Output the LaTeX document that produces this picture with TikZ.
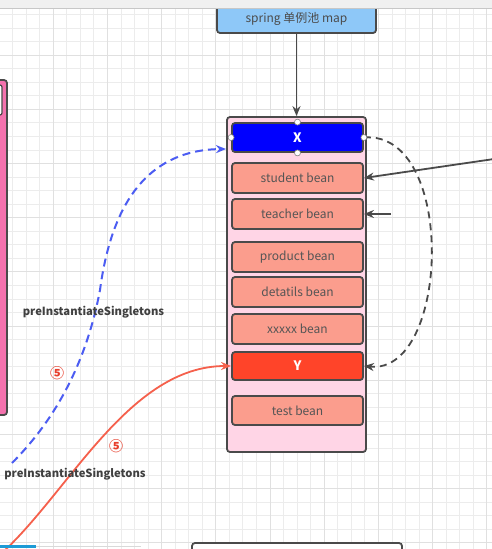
\documentclass[tikz,border=0pt]{standalone}
\usepackage{fontspec}
\setmainfont{Noto Sans CJK SC}
\usetikzlibrary{arrows.meta}
\definecolor{gridminor}{HTML}{ECECEC}
\definecolor{gridmajor}{HTML}{E0E0E0}
\definecolor{edgegrey}{HTML}{4A4A4A}
\definecolor{mapblue}{HTML}{8EC8F8}
\definecolor{poolpink}{HTML}{FFD5E6}
\definecolor{beanfill}{HTML}{FB9D8D}
\definecolor{beantext}{HTML}{555555}
\definecolor{xblue}{HTML}{0000FF}
\definecolor{yred}{HTML}{FF4429}
\definecolor{dashblue}{HTML}{4B5CF2}
\definecolor{curvered}{HTML}{F5604C}
\definecolor{numred}{HTML}{E8402E}
\definecolor{sidepink}{HTML}{F472AE}
\definecolor{barblue}{HTML}{1D9BD6}
\begin{document}
\begin{tikzpicture}[x=1pt,y=-1pt,
  box/.style={draw=edgegrey, line width=1.8pt, rounded corners=3pt, inner sep=0pt, minimum width=131pt},
  bean/.style={box, fill=beanfill, text=beantext, font=\fontsize{12}{14}\selectfont, minimum height=30pt},
  keybox/.style={box, text=white, font=\fontsize{13}{15}\selectfont\bfseries, minimum height=29pt},
  handle/.style={circle, draw=edgegrey!70, fill=white, line width=0.6pt, inner sep=0pt, minimum size=6pt},
  tip/.style={-{Stealth[length=10pt,width=8pt]}},
  lbl/.style={font=\fontsize{11.2}{13}\selectfont\bfseries, text=black!75},
  num/.style={font=\fontsize{14}{16}\selectfont\bfseries, text=numred}]
\useasboundingbox (0,0) rectangle (492,549);
\fill[white] (0,0) rectangle (492,549);
% grid
\foreach \k in {0,...,37} {\pgfmathsetmacro\xx{-1+13.55*\k}\draw[gridminor, line width=0.9pt] (\xx,0) -- (\xx,549);}
\foreach \k in {0,...,41} {\pgfmathsetmacro\yy{0.9+13.55*\k}\draw[gridminor, line width=0.9pt] (0,\yy) -- (492,\yy);}
\foreach \k in {0,...,9} {\pgfmathsetmacro\xx{-1+54.2*\k}\draw[gridmajor, line width=1pt] (\xx,0) -- (\xx,549);}
\foreach \k in {0,...,10} {\pgfmathsetmacro\yy{0.9+54.2*\k}\draw[gridmajor, line width=1pt] (0,\yy) -- (492,\yy);}

% left side box
\node[draw=edgegrey, line width=1.8pt, fill=sidepink, rounded corners=3pt, minimum width=17pt, minimum height=335pt, inner sep=0pt] (leftbox) at (-1.5,247.5) {};
\node[draw=edgegrey, line width=1.2pt, fill=white, rounded corners=2pt, minimum width=12pt, minimum height=30pt, inner sep=0pt] (leftinner) at (-4,100) {};

% map box
\node[draw=edgegrey, line width=1.8pt, fill=mapblue, rounded corners=3pt, minimum width=159pt, minimum height=28pt, inner sep=0pt, text=black!70, font=\fontsize{12}{14}\selectfont] (map) at (296.5,19) {spring 单例池 map};

% container
\node[draw=edgegrey, line width=1.8pt, fill=poolpink, rounded corners=3pt, minimum width=139pt, minimum height=335pt, inner sep=0pt] (pool) at (296.5,284.5) {};

\node[keybox, fill=xblue] (X) at (297.5,137.5) {X};
\node[bean] (student) at (297.5,178) {student bean};
\node[bean] (teacher) at (297.5,214) {teacher bean};
\node[bean] (product) at (297.5,257) {product bean};
\node[bean] (details) at (297.5,292) {detatils bean};
\node[bean] (xxxxx) at (297.5,329) {xxxxx bean};
\node[keybox, fill=yred, minimum height=28pt] (Y) at (297.5,366) {Y};
\node[bean, minimum height=29pt] (test) at (297.5,410.5) {test bean};

% connectors
\draw[tip, edgegrey, line width=1.8pt] (map.south) -- (pool.north);
\draw[tip, edgegrey, line width=1.8pt, dash pattern=on 7pt off 5pt] (X.east) .. controls (457,130) and (450,375) .. (Y.east);
\coordinate (rightin) at (494,159);
\draw[tip, edgegrey, line width=1.8pt] (rightin) -- (student.east);
\coordinate (shortin) at (391,214);
\draw[tip, edgegrey, line width=1.8pt] (shortin) -- (teacher.east);

\coordinate (bluestart) at (12,463);
\coordinate (bluemid) at (100,290);
\coordinate (bluetip) at (226,149);
\draw[tip, dashblue, line width=2pt, dash pattern=on 8pt off 5pt] (bluestart) .. controls (50,425) and (85,370) .. (bluemid) .. controls (112,200) and (150,150) .. (bluetip);

\coordinate (redstart) at (3,552);
\draw[tip, curvered, line width=1.8pt] (redstart) .. controls (70,490) and (130,366) .. (Y.west);

% handles
\node[handle] (hw) at (X.west) {};
\node[handle] (he) at (X.east) {};
\node[handle] (hn) at (X.north) {};
\node[handle] (hs) at (X.south) {};

% labels
\node[lbl] (lab1) at (93.5,312) {preInstantiateSingletons};
\node[lbl] (lab2) at (75,474) {preInstantiateSingletons};
\node[num] (n1) at (57,373) {⑤};
\node[num] (n2) at (116,446) {⑤};

% bottom
\node[draw=edgegrey, line width=1.8pt, fill=white, rounded corners=3pt, minimum width=210pt, minimum height=20pt, inner sep=0pt] (bottombox) at (297,553) {};
\draw[black!15, line width=1.5pt] (0,546.5) -- (141,546.5);
\draw[barblue, line width=2.5pt] (0,546.5) -- (36,546.5);

% top bar
\node[fill=black!6, minimum width=492pt, minimum height=8pt, inner sep=0pt] (topbar) at (246,4) {};
\draw[black!22, line width=1pt] (topbar.south west) -- (topbar.south east);
\end{tikzpicture}
\end{document}
